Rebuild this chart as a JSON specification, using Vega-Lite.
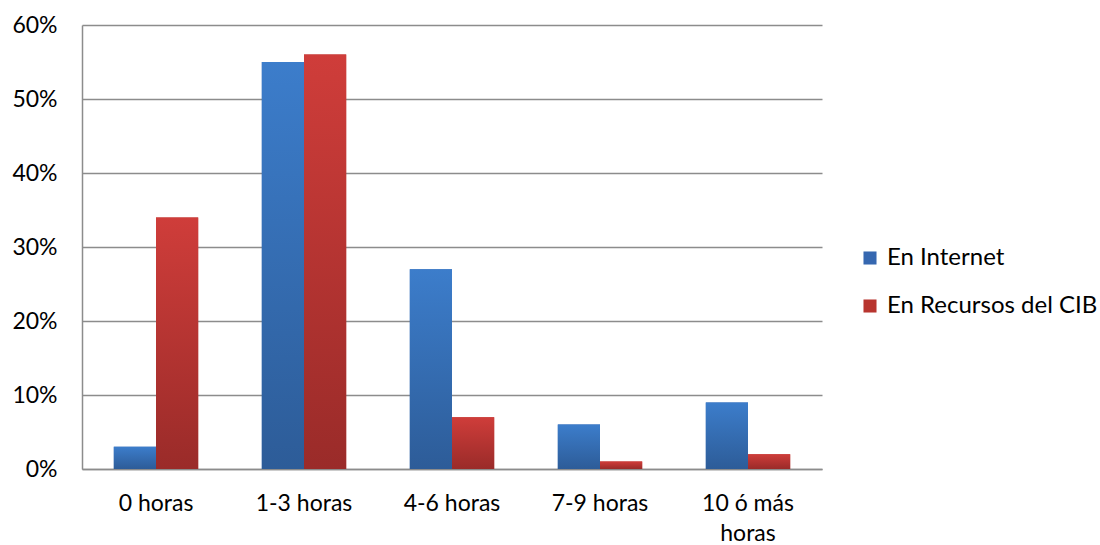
{
  "$schema": "https://vega.github.io/schema/vega-lite/v6.json",
  "width": 740,
  "height": 444,
  "autosize": {"type": "none"},
  "padding": {"left": 82, "top": 25, "right": 278, "bottom": 76},
  "background": "white",
  "config": {
    "view": {"stroke": null},
    "font": "Lato",
    "axis": {"labelFont": "Lato", "labelFontSize": 23, "labelColor": "#000000"},
    "legend": {"labelFont": "Lato", "labelFontSize": 24, "labelColor": "#000000"}
  },
  "data": {
    "values": [
      {"cat": "0 horas", "serie": "En Internet", "v": 0.03},
      {"cat": "0 horas", "serie": "En Recursos del CIB", "v": 0.34},
      {"cat": "1-3 horas", "serie": "En Internet", "v": 0.55},
      {"cat": "1-3 horas", "serie": "En Recursos del CIB", "v": 0.56},
      {"cat": "4-6 horas", "serie": "En Internet", "v": 0.27},
      {"cat": "4-6 horas", "serie": "En Recursos del CIB", "v": 0.07},
      {"cat": "7-9 horas", "serie": "En Internet", "v": 0.06},
      {"cat": "7-9 horas", "serie": "En Recursos del CIB", "v": 0.01},
      {"cat": "10 ó más horas", "serie": "En Internet", "v": 0.09},
      {"cat": "10 ó más horas", "serie": "En Recursos del CIB", "v": 0.02}
    ]
  },
  "encoding": {
    "x": {
      "field": "cat", "type": "nominal", "sort": null, "title": null,
      "scale": {"paddingInner": 0.43, "paddingOuter": 0.215},
      "axis": {
        "labelAngle": 0, "ticks": false, "labelPadding": 23, "labelFontSize": 23,
        "domainColor": "#8c8c8c", "domainWidth": 1.5,
        "labelLineHeight": 30, "labelOverlap": false, "labelBaseline": "top",
        "labelExpr": "datum.label == '10 ó más horas' ? ['10 ó más', 'horas'] : datum.label"
      }
    },
    "xOffset": {"field": "serie", "type": "nominal", "scale": {"domain": ["En Internet", "En Recursos del CIB"], "paddingInner": 0, "paddingOuter": 0}},
    "y": {
      "field": "v", "type": "quantitative", "title": null,
      "scale": {"domain": [0, 0.6]},
      "axis": {
        "format": ".0%", "values": [0, 0.1, 0.2, 0.3, 0.4, 0.5, 0.6],
        "ticks": false, "labelPadding": 25, "grid": true, "labelOverlap": false,
        "gridColor": "#8c8c8c", "gridWidth": 1.3,
        "domain": true, "domainColor": "#8c8c8c", "domainWidth": 1.5
      }
    }
  },
  "layer": [
    {
      "mark": {"type": "bar", "opacity": 1},
      "encoding": {
        "color": {
          "field": "serie", "type": "nominal", "title": null,
          "scale": {"domain": ["En Internet", "En Recursos del CIB"], "range": ["#3567b0", "#b8352f"]},
          "legend": {
            "orient": "none", "legendX": 776, "legendY": 221,
            "symbolType": "square", "symbolSize": 170, "rowPadding": 24,
            "labelOffset": 5, "labelLimit": 400
          }
        }
      }
    },
    {
      "transform": [{"filter": "datum.serie == 'En Internet'"}],
      "mark": {
        "type": "bar",
        "fill": {"gradient": "linear", "x1": 0, "y1": 0, "x2": 0, "y2": 1,
          "stops": [{"offset": 0, "color": "#3c7dcb"}, {"offset": 1, "color": "#2d5c98"}]}
      }
    },
    {
      "transform": [{"filter": "datum.serie == 'En Recursos del CIB'"}],
      "mark": {
        "type": "bar",
        "fill": {"gradient": "linear", "x1": 0, "y1": 0, "x2": 0, "y2": 1,
          "stops": [{"offset": 0, "color": "#cf3d3a"}, {"offset": 1, "color": "#9a2b29"}]}
      }
    }
  ]
}
